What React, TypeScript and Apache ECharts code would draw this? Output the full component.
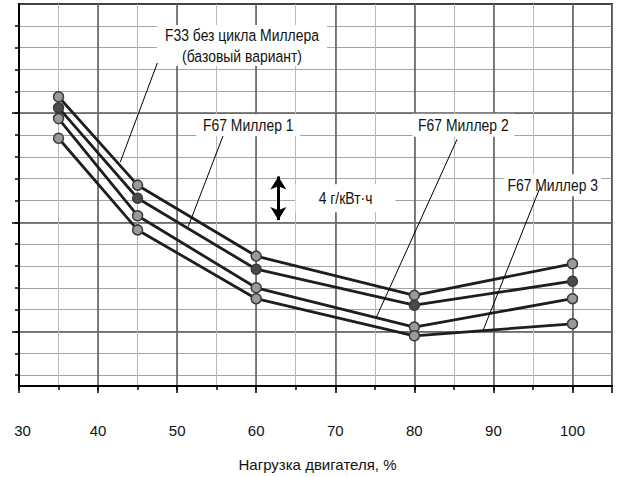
import React, { useEffect, useRef } from "react";
import * as echarts from "echarts";

// Engine load, %
const loads = [35, 45, 60, 80, 100];
// Specific fuel consumption, g/kWh (relative scale, axis unlabeled)
const f33Base = [191.5, 183.4, 176.9, 173.3, 176.2];
const miller1 = [190.5, 182.2, 175.7, 172.4, 174.6];
const miller2 = [189.5, 180.6, 174.0, 170.4, 173.0];
const miller3 = [187.7, 179.3, 173.0, 169.6, 170.7];

const xTickLabels = [30, 40, 50, 60, 70, 80, 90, 100];
const yMinorLines = [166, 168, 170, 172, 174, 176, 178, 180, 182, 184, 186, 188, 190, 192, 194, 196, 198];
const yMajorLines = [170, 180, 190];

const seriesNames = ["F33 без цикла Миллера (базовый вариант)", "F67 Миллер 1", "F67 Миллер 2", "F67 Миллер 3"];

// annotation texts and anchors (data coordinates)
const labelTexts = ["F33 без цикла Миллера\n(базовый вариант)", "F67 Миллер 1", "F67 Миллер 2", "F67 Миллер 3", "4 г/кВт·ч"];
const labelAt = [
  [58.2, 196.2],
  [59.0, 188.9],
  [86.2, 188.9],
  [97.5, 183.4],
  [71.3, 182.2],
];
const leaderFrom = [
  [47.5, 194.6],
  [55.8, 187.9],
  [85.4, 187.6],
  [95.9, 183.2],
];
const leaderTo = [
  [42.8, 185.5],
  [51.4, 179.6],
  [75.2, 171.3],
  [88.7, 170.1],
];
const arrowSpan = [
  [62.8, 184.2],
  [62.8, 180.2],
];

// label box sizes in pixels (styling)
const boxSize = [
  [170, 41],
  [104, 22],
  [102, 23],
  [97, 22],
  [100, 28],
];

const FONT = "'Liberation Sans', Arial, sans-serif";

export default function App() {
  const ref = useRef<HTMLDivElement>(null);
  useEffect(() => {
    if (!ref.current) return;
    const chart = echarts.init(ref.current, null, { renderer: "svg" });
    const seriesData = [f33Base, miller1, miller2, miller3];
    const fills = ["#9a9a9a", "#4a4a4a", "#9a9a9a", "#9a9a9a"];

    const series: any[] = seriesData.map((vals, si) => ({
      name: seriesNames[si],
      type: "line",
      xAxisIndex: 0,
      yAxisIndex: 0,
      data: loads.map((x, i) => [x, vals[i]]),
      symbol: "circle",
      symbolSize: 10,
      lineStyle: { color: "#1e1e1e", width: 2.8 },
      itemStyle: { color: fills[si], borderColor: "#3a3a3a", borderWidth: 1.5 },
      z: 3,
    }));

    series.push({
      type: "line",
      xAxisIndex: 0,
      yAxisIndex: 0,
      data: [],
      silent: true,
      markLine: {
        silent: true,
        symbol: ["arrow", "arrow"],
        symbolSize: [12, 13],
        label: { show: false },
        lineStyle: { color: "#000", width: 3, type: "solid" },
        data: [[{ coord: arrowSpan[0] }, { coord: arrowSpan[1] }]],
      },
      z: 6,
    });

    chart.setOption({
      animation: false,
      backgroundColor: "#fff",
      grid: {
        left: 19,
        right: 9,
        top: 4,
        bottom: 91,
        show: true,
        borderColor: "#444",
        borderWidth: 2,
        backgroundColor: "transparent",
      },
      xAxis: [
        {
          type: "value",
          position: "bottom",
          min: 30,
          max: 105,
          interval: 5,
          axisLine: { show: true, onZero: false, lineStyle: { color: "#000", width: 2 } },
          axisTick: { show: true, length: 4, lineStyle: { color: "#000", width: 1.5 } },
          splitLine: { show: true, lineStyle: { color: "#b8b8b8", width: 1 } },
          axisLabel: {
            show: true,
            margin: 37,
            color: "#111",
            fontFamily: FONT,
            fontSize: 15,
            showMaxLabel: false,
            formatter: (v: number) =>
              xTickLabels.indexOf(v) >= 0 ? (v === 30 ? "{f|30}" : String(v)) : "",
            rich: { f: { padding: [0, 0, 0, 7], fontFamily: FONT, fontSize: 15, color: "#111" } },
          },
          name: "Нагрузка двигателя, %",
          nameLocation: "middle",
          nameGap: 71,
          nameTextStyle: { color: "#111", fontFamily: FONT, fontSize: 15, padding: [0, 0, 0, 4] },
        },
        {
          type: "value",
          position: "bottom",
          min: 30,
          max: 105,
          interval: 10,
          axisLine: { show: false, onZero: false },
          axisTick: { show: true, length: 7, lineStyle: { color: "#000", width: 1.5 } },
          splitLine: { show: true, lineStyle: { color: "#5a5a5a", width: 1.5 } },
          axisLabel: { show: false },
        },
      ],
      yAxis: [
        {
          type: "value",
          position: "left",
          min: 165,
          max: 200,
          axisLine: { show: true, onZero: false, lineStyle: { color: "#000", width: 2 } },
          axisTick: { show: true, length: 4, customValues: yMinorLines, lineStyle: { color: "#000", width: 1.5 } },
          splitLine: { show: true, lineStyle: { color: "#a4a4a4", width: 1 } },
          axisLabel: { show: false },
        },
        {
          type: "value",
          position: "left",
          min: 165,
          max: 200,
          axisLine: { show: false, onZero: false },
          axisTick: { show: true, length: 7, customValues: yMajorLines, lineStyle: { color: "#000", width: 1.5 } },
          splitLine: { show: true, lineStyle: { color: "#5a5a5a", width: 1.5 } },
          axisLabel: { show: false },
        },
      ],
      series,
    });

    const toPx = (p: number[]) => chart.convertToPixel({ xAxisIndex: 0, yAxisIndex: 0 }, p) as number[];
    const graphic: any[] = [];
    labelTexts.forEach((t, i) => {
      const [cx, cy] = toPx(labelAt[i]);
      const [w, h] = boxSize[i];
      graphic.push({
        type: "rect",
        silent: true,
        z: 10,
        shape: { x: cx - w / 2, y: cy - h / 2, width: w, height: h },
        style: { fill: "#fff" },
      });
      graphic.push({
        type: "text",
        silent: true,
        z: 11,
        x: cx,
        y: cy,
        scaleX: 0.82,
        style: {
          text: t,
          fill: "#111",
          font: "17px 'Liberation Sans', Arial, sans-serif",
          fontSize: 17,
          fontFamily: FONT,
          lineHeight: 21,
          align: "center",
          verticalAlign: "middle",
          textAlign: "center",
          textVerticalAlign: "middle",
        },
      });
    });
    leaderFrom.forEach((p, i) => {
      const [x1, y1] = toPx(p);
      const [x2, y2] = toPx(leaderTo[i]);
      graphic.push({
        type: "line",
        silent: true,
        z: 12,
        shape: { x1, y1, x2, y2 },
        style: { stroke: "#000", lineWidth: 1 },
      });
    });
    chart.setOption({ graphic });

    return () => chart.dispose();
  }, []);
  return (
    <div
      ref={ref}
      style={{ position: "fixed", left: 0, top: 0, width: 621, height: 477, background: "#fff" }}
    />
  );
}
